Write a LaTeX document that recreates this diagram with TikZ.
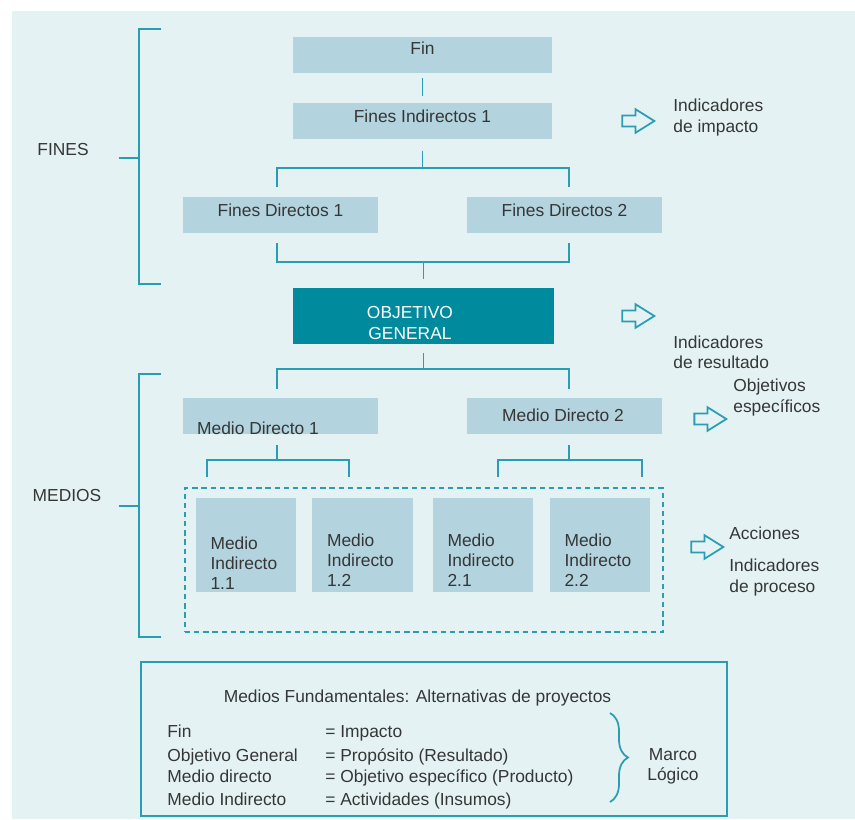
\documentclass[tikz,border=0pt]{standalone}
\usepackage{fontspec}
\setmainfont{Liberation Sans}
\usetikzlibrary{shapes.arrows,decorations.pathreplacing}

\definecolor{bgmint}{HTML}{E4F2F3}
\definecolor{boxblue}{HTML}{B3D4DE}
\definecolor{deepteal}{HTML}{008A9E}
\definecolor{lineteal}{HTML}{2A9DB5}
\definecolor{txtgray}{HTML}{363636}

\tikzset{
	box/.style={fill=boxblue, inner sep=0pt, minimum width=3.9cm, minimum height=0.72cm},
	txt/.style={text=txtgray, inner sep=0pt, font=\fontsize{9.9}{11.5}\selectfont},
	link/.style={draw=lineteal, line width=1pt},
	openarrow/.style={single arrow, draw=lineteal, line width=1pt, inner sep=2.6pt,
		minimum height=0.64cm, single arrow head extend=3.6pt, single arrow tip angle=64},
}

\begin{document}
\begin{tikzpicture}[x=0.02cm,y=-0.02cm]
	\useasboundingbox (0,0) rectangle (855,819);
	\fill[white] (0,0) rectangle (855,819);
	\fill[bgmint] (12,11) rectangle (855,819);

	% fines
	\node[box, minimum width=5.18cm] (fin) at (422.5,55) {};
	\node[txt] (fin-t) at ([shift={(0,-7)}]fin.center) {Fin};
	\node[box, minimum width=5.18cm] (finind) at (422.5,121) {};
	\node[txt] (finind-t) at ([shift={(0,-5)}]finind.center) {Fines Indirectos 1};
	\node[box] (fd1) at (280.5,214.5) {};
	\node[txt] (fd1-t) at ([shift={(0,-4)}]fd1.center) {Fines Directos 1};
	\node[box] (fd2) at (564.5,214.5) {};
	\node[txt] (fd2-t) at ([shift={(0,-4)}]fd2.center) {Fines Directos 2};

	% objetivo general
	\node[fill=deepteal, inner sep=0pt, minimum width=5.22cm, minimum height=1.12cm] (og) at (423.5,316) {};
	\node[txt, text=white, align=center] (og-t) at ([shift={(-13.5,7)}]og.center) {OBJETIVO\\GENERAL};

	% medios
	\node[box] (md1) at (280.5,416) {};
	\node[txt] (md1-t) at ([shift={(-22.5,12)}]md1.center) {Medio Directo 1};
	\node[box] (md2) at (564.5,416) {};
	\node[txt] (md2-t) at ([shift={(-1.5,-1)}]md2.center) {Medio Directo 2};

	\node[draw=lineteal, line width=1pt, dash pattern=on 3pt off 2.2pt, inner sep=0pt,
		minimum width=9.56cm, minimum height=2.88cm] (mi-all) at (424,560) {};
	\foreach \nm/\cx/\lab/\dy in {mi11/246/1.1/18, mi12/362.5/1.2/15, mi21/483/2.1/15, mi22/600/2.2/15} {
		\node[box, minimum width=2.02cm, minimum height=1.88cm] (\nm) at (\cx,545) {};
		\node[txt, align=left, anchor=west] (\nm-t) at ([shift={(15,\dy)}]\nm.west) {Medio\\Indirecto\\\lab};
	}

	% connectors
	\draw[link] ([shift={(0,5)}]fin.south) -- ([shift={(0,-7)}]finind.north);
	\draw[link] ([shift={(0,12)}]finind.south) -- ++(0,17) coordinate (j1);
	\draw[link] ([shift={(-3.5,-9)}]fd1.north) |- (j1) -| ([shift={(4.5,-9)}]fd2.north);
	\coordinate (j2) at ([shift={(0,-26)}]og.north);
	\draw[link] ([shift={(-3.5,10)}]fd1.south) |- (j2) -| ([shift={(4.5,10)}]fd2.south);
	\draw[link] (j2) -- ([shift={(0,-9)}]og.north);
	\draw[link] ([shift={(0,9)}]og.south) -- ++(0,16) coordinate (j3);
	\draw[link] ([shift={(-3.5,-9)}]md1.north) |- (j3) -| ([shift={(4.5,-9)}]md2.north);
	\draw[link] ([shift={(-3.5,11)}]md1.south) -- ++(0,15) coordinate (j4);
	\draw[link] ([shift={(-70,17)}]j4) |- (j4) -| ([shift={(72,17)}]j4);
	\draw[link] ([shift={(4.5,11)}]md2.south) -- ++(0,15) coordinate (j5);
	\draw[link] ([shift={(-71,17)}]j5) |- (j5) -| ([shift={(73,17)}]j5);

	% brackets
	\draw[link] (161,29) -- (139,29) -- (139,284) -- (161,284);
	\draw[link] (119,158) -- (139,158);
	\node[txt] (fines) at (63,150) {FINES};
	\draw[link] (161,374) -- (139,374) -- (139,637) -- (161,637);
	\draw[link] (119,506) -- (139,506);
	\node[txt] (medios) at (67,495) {MEDIOS};

	% indicadores
	\node[openarrow] (arr1) at (634,121) {};
	\node[txt, align=left, anchor=west] (ind1) at (673,117.5) {Indicadores\\de impacto};
	\node[openarrow] (arr2) at (634,316) {};
	\node[txt, align=left, anchor=west] (ind2) at (673,352) {Indicadores\\de resultado};
	\node[openarrow] (arr3) at (706,419) {};
	\node[txt, align=left, anchor=west] (ind3) at (733,397.5) {Objetivos\\específicos};
	\node[openarrow] (arr4) at (703,547) {};
	\node[txt, anchor=west] (ind4) at (729,533) {Acciones};
	\node[txt, align=left, anchor=west] (ind5) at (729,577.5) {Indicadores\\de proceso};

	% medios fundamentales
	\node[draw=lineteal, line width=1pt, inner sep=0pt, minimum width=11.72cm, minimum height=3.08cm] (legend) at (434,739) {};
	\node[txt, anchor=base] (leg-title) at (417.5,702) {Medios Fundamentales: Alternativas de proyectos};
	\foreach \yy/\lft/\rgt [count=\i] in {737/Fin/= Impacto, 761/Objetivo General/= Propósito (Resultado),
		782/Medio directo/= Objetivo específico (Producto), 805/Medio Indirecto/= Actividades (Insumos)} {
		\node[txt, anchor=base west] (leg-l\i) at (167,\yy) {\lft};
		\node[txt, anchor=base west] (leg-r\i) at (325,\yy) {\rgt};
	}
	\draw[link, decorate, decoration={brace, amplitude=0.36cm}] (610,713) -- (610,802) coordinate[midway] (brace);
	\node[txt, align=center] (marco) at (673,766.5) {Marco\\Lógico};
\end{tikzpicture}
\end{document}
